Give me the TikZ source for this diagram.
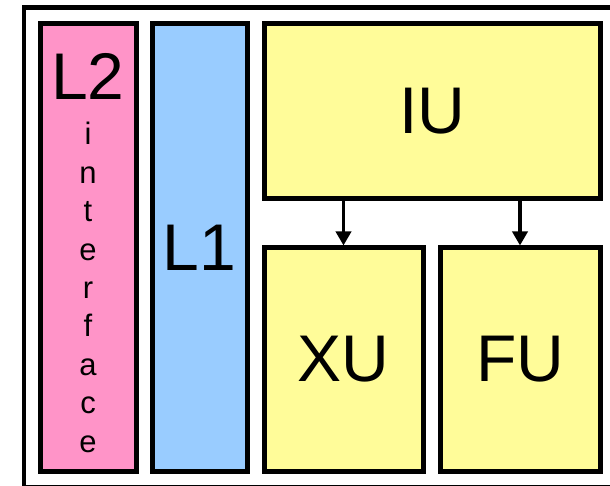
\documentclass[tikz,border=0pt]{standalone}
\usepackage{fontspec}
\setmainfont{Liberation Sans}
\usetikzlibrary{arrows.meta}
\definecolor{pinkfill}{HTML}{FF94C8}
\definecolor{bluefill}{HTML}{99CCFF}
\definecolor{yellowfill}{HTML}{FFFC99}
\tikzset{
  unit/.style={draw=black, line width=5pt, inner sep=0pt, font=\fontsize{66}{70}\selectfont},
  bigtext/.style={inner sep=0pt, font=\fontsize{66}{70}\selectfont},
  smalltext/.style={inner sep=0pt, align=center, font=\fontsize{31}{38.4}\selectfont},
  flow/.style={line width=3.5pt, -{Triangle[width=15pt,length=14pt]}}
}
\begin{document}
\begin{tikzpicture}[x=1pt,y=-1pt]
\useasboundingbox (0,0) rectangle (610,486);
\fill[white] (0,0) rectangle (610,486);
\clip (0,0) rectangle (610,486);
\draw[line width=4.5pt] (24,7.5) rectangle (616,487.5);
\node[unit, fill=pinkfill, minimum width=96pt, minimum height=447pt] (L2) at (88,247.5) {};
\node[bigtext, anchor=base] (L2lbl) at (88,100) {L2};
\node[smalltext, anchor=base] (iface) at (88,452) {i\\n\\t\\e\\r\\f\\a\\c\\e};
\node[unit, fill=bluefill, minimum width=95pt, minimum height=447pt] (L1) at (199.5,247.5) {L1};
\node[unit, fill=yellowfill, minimum width=336pt, minimum height=175pt] (IU) at (432,111.5) {IU};
\node[unit, fill=yellowfill, minimum width=159pt, minimum height=223pt] (XU) at (343.5,359.5) {XU};
\node[unit, fill=yellowfill, minimum width=160pt, minimum height=223pt] (FU) at (520,359.5) {FU};
\draw[flow] (IU.south -| XU.north) -- (XU.north);
\draw[flow] (IU.south -| FU.north) -- (FU.north);
\end{tikzpicture}
\end{document}
